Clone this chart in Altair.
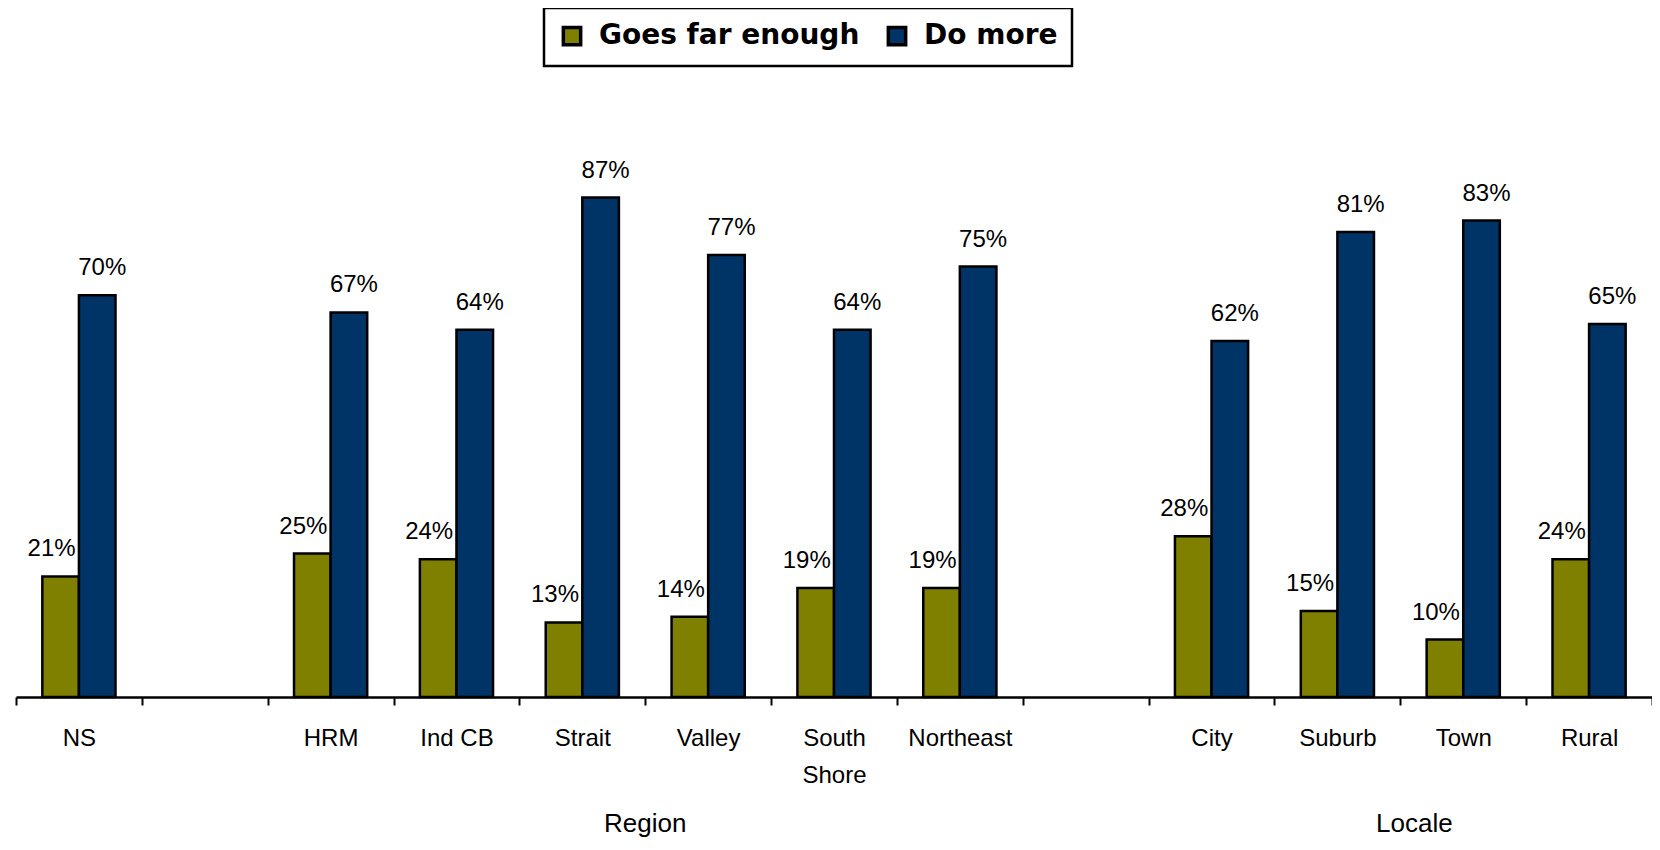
import altair as alt
import pandas as pd

# ---- data ----
categories = ["NS", "gap1", "HRM", "Ind CB", "Strait", "Valley", "South Shore",
              "Northeast", "gap2", "City", "Suburb", "Town", "Rural"]
bar_categories = ["NS", "HRM", "Ind CB", "Strait", "Valley", "South Shore",
                  "Northeast", "City", "Suburb", "Town", "Rural"]
goes_far_enough = [21, 25, 24, 13, 14, 19, 19, 28, 15, 10, 24]
do_more = [70, 67, 64, 87, 77, 64, 75, 62, 81, 83, 65]
series = ["Goes far enough", "Do more"]
series_colors = ["#808000", "#003366"]
group_labels = ["Region", "Locale"]
group_anchor = ["Valley", "Town"]

rows = []
for c, g, d in zip(bar_categories, goes_far_enough, do_more):
    rows.append({"cat": c, "series": series[0], "value": g, "label": f"{g}%"})
    rows.append({"cat": c, "series": series[1], "value": d, "label": f"{d}%"})
df = pd.DataFrame(rows)
groups = pd.DataFrame({"cat": group_anchor, "group": group_labels})

x_scale = alt.Scale(domain=categories, paddingInner=0, paddingOuter=0)
x_axis = alt.Axis(
    title=None,
    labelExpr="indexof(datum.label, 'gap') == 0 ? '' : (datum.label == 'South Shore' ? ['South', 'Shore'] : datum.label)",
    tickBand="extent",
    labelAngle=0,
    labelFont="Liberation Sans",
    labelFontSize=24,
    labelColor="black",
    labelLineHeight=37,
    labelPadding=21,
    labelOverlap=False,
    labelFlush=False,
    labelLimit=300,
    tickSize=8,
    tickWidth=2,
    tickColor="black",
    domainColor="black",
    domainWidth=2.5,
    grid=False,
)

x_enc = alt.X("cat:N", scale=x_scale, sort=categories, axis=x_axis)
xoff_enc = alt.XOffset("series:N", sort=series,
                       scale=alt.Scale(domain=series, paddingInner=0, paddingOuter=0.72))
y_enc = alt.Y("value:Q", scale=alt.Scale(domain=[0, 100], nice=False, zero=True), axis=None)

bars = alt.Chart(df).mark_bar(stroke="black", strokeWidth=2.5).encode(
    x=x_enc,
    xOffset=xoff_enc,
    y=y_enc,
    color=alt.Color(
        "series:N",
        sort=series,
        scale=alt.Scale(domain=series, range=series_colors),
        legend=alt.Legend(
            title=None,
            orient="none",
            legendX=528,
            legendY=-115,
            direction="horizontal",
            symbolType="square",
            symbolSize=300,
            symbolStrokeColor="black",
            symbolStrokeWidth=3.5,
            symbolOpacity=1,
            labelFont="DejaVu Sans",
            labelFontWeight="bold",
            labelFontSize=28,
            labelColor="black",
            labelOffset=13,
            labelLimit=500,
            columnPadding=21,
            padding=14,
            strokeColor="black",
            fillColor="white",
        ),
    ),
)

text_style = dict(font="Liberation Sans", fontSize=24, color="black", baseline="alphabetic", dy=-20)

values_green = alt.Chart(df).transform_filter(
    alt.datum.series == series[0]
).mark_text(dx=-9, **text_style).encode(
    x=x_enc, xOffset=xoff_enc, y=y_enc, text="label:N"
)

values_blue = alt.Chart(df).transform_filter(
    alt.datum.series == series[1]
).mark_text(dx=5, **text_style).encode(
    x=x_enc, xOffset=xoff_enc, y=y_enc, text="label:N"
)

group_style = dict(font="Liberation Sans", fontSize=26, color="black", baseline="alphabetic", align="center")

region_text = alt.Chart(groups).transform_filter(
    alt.datum.group == group_labels[0]
).mark_text(**group_style).encode(
    x=alt.X("cat:N", scale=x_scale, sort=categories, axis=x_axis, bandPosition=0),
    y=alt.value(709),
    text="group:N",
)

locale_text = alt.Chart(groups).transform_filter(
    alt.datum.group == group_labels[1]
).mark_text(dx=14, **group_style).encode(
    x=alt.X("cat:N", scale=x_scale, sort=categories, axis=x_axis, bandPosition=0),
    y=alt.value(709),
    text="group:N",
)

chart = alt.layer(bars, values_green, values_blue, region_text, locale_text).properties(
    width=1636,
    height=574,
    padding={"left": 8, "top": 115, "right": 0, "bottom": 145},
    autosize=alt.AutoSizeParams(type="none"),
    background="white",
).configure_view(stroke=None).configure_legend(strokeWidth=2.5)

chart.save("out.html", embed_options={"renderer": "svg", "actions": False})
